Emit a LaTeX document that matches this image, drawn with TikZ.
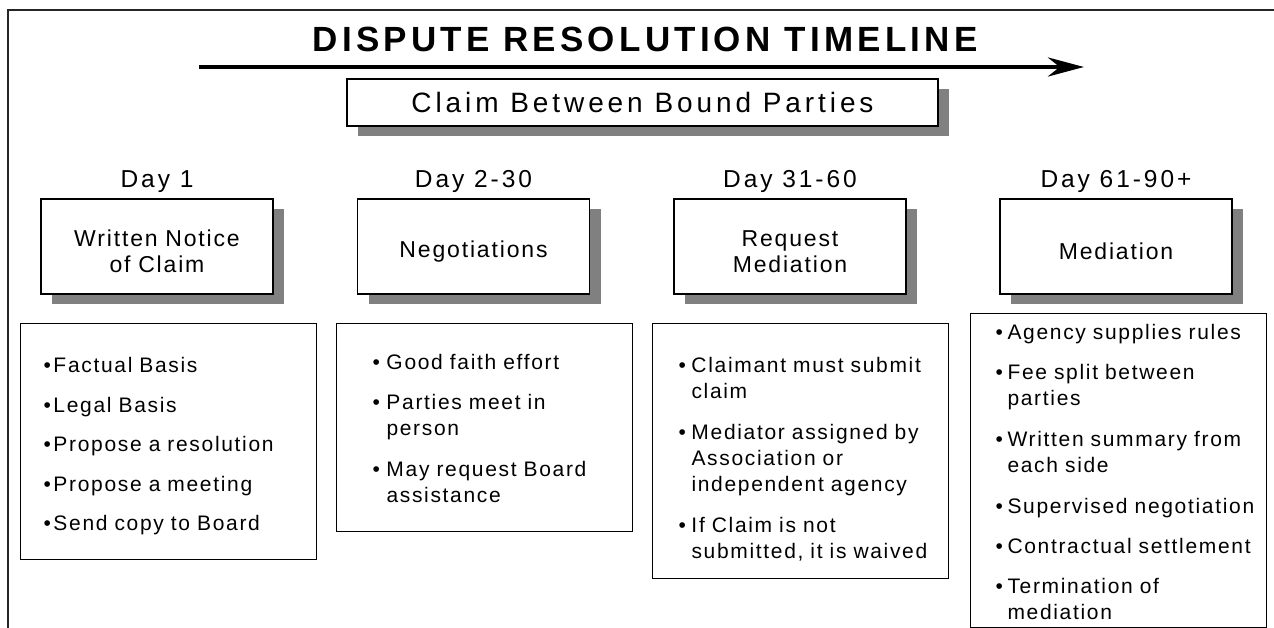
\documentclass[tikz,border=0pt]{standalone}
\usepackage{fontspec}
\setmainfont{Liberation Sans}
\usetikzlibrary{arrows.meta,shadows}
\definecolor{shade}{HTML}{808080}
% bullet with a hanging indent
\newcommand{\pnt}[2][13pt]{\makebox[#1][l]{\textbullet}\begin{tabular}[t]{@{}l@{}}#2\end{tabular}}

\begin{document}
\begin{tikzpicture}[x=1pt,y=-1pt,
    stage/.style={draw, fill=white, line width=1.2pt, minimum width=232pt, minimum height=95pt,
      text width=220pt, inner xsep=6pt, align=center,
      font=\fontsize{23}{26}\selectfont\addfontfeatures{LetterSpace=8},
      drop shadow={shadow xshift=11pt, shadow yshift=-10pt, fill=shade, opacity=1}},
    day/.style={anchor=base, font=\fontsize{24.5}{28}\selectfont\addfontfeatures{LetterSpace=12}},
    info/.style={draw, line width=1pt, anchor=north west, align=left, inner ysep=0pt,
      font=\fontsize{21}{26}\selectfont\addfontfeatures{LetterSpace=8}}]
    \path[use as bounding box, fill=white] (0,0) rectangle (1274,628);

    % frame
    \draw[line width=2pt, black!85] (1280,10) -- (8,10) -- (8,640);

    \node[anchor=base, font=\fontsize{35}{40}\selectfont\bfseries\addfontfeatures{LetterSpace=12}] (title) at (645,52) {DISPUTE RESOLUTION TIMELINE};
    \coordinate (tstart) at (199,67);
    \coordinate (tend) at (1084,67);
    \draw[line width=4.7pt, -{Stealth[length=36pt, width=19pt]}] (tstart) -- (tend);

    \node[draw, fill=white, line width=1.2pt, minimum width=591pt, minimum height=47pt,
      font=\fontsize{28}{32}\selectfont\addfontfeatures{LetterSpace=14},
      drop shadow={shadow xshift=11pt, shadow yshift=-10pt, fill=shade, opacity=1}] (claim) at (642.5,102.5) {Claim Between Bound Parties};

    \node[day] (d1) at (157,188) {Day 1};
    \node[day] (d2) at (473.5,188) {Day 2-30};
    \node[day] (d3) at (790,188) {Day 31-60};
    \node[day] (d4) at (1116,188) {Day 61-90+};

    \node[stage] (notice) at (157,246.5) {\rule{0pt}{26pt}Written Notice\\of Claim};
    \node[stage] (nego) at (473.5,246.5) {\rule{0pt}{26pt}Negotiations};
    \node[stage] (req) at (790,246.5) {\rule{0pt}{26pt}Request\\Mediation};
    \node[stage] (med) at (1116,246.5) {\rule{0pt}{26pt}Mediation};

    \node[info, minimum height=236pt, text width=250pt, inner xsep=23pt] (facts) at (20,323) {%
      \rule{0pt}{27.8pt}\pnt[10pt]{Factual Basis}\\[13.5pt]
      \pnt[10pt]{Legal Basis}\\[13.5pt]
      \pnt[10pt]{Propose a resolution}\\[13.5pt]
      \pnt[10pt]{Propose a meeting}\\[13.5pt]
      \pnt[10pt]{Send copy to Board}};

    \node[info, minimum height=208pt, text width=224pt, inner xsep=36pt] (talks) at (336,323) {%
      \rule{0pt}{23.8pt}\pnt[14pt]{Good faith effort}\\[14pt]
      \pnt[14pt]{Parties meet in\\person}\\[14pt]
      \pnt[14pt]{May request Board\\assistance}};

    \node[info, minimum height=255pt, text width=244pt, inner xsep=26pt] (asks) at (652,323) {%
      \rule{0pt}{36.8pt}\pnt{Claimant must submit\\claim}\\[14pt]
      \pnt{Mediator assigned by\\Association or\\independent agency}\\[14pt]
      \pnt{If Claim is not\\submitted, it is waived}};

    \node[info, minimum height=312pt, text width=246pt, inner xsep=25pt] (rules) at (970,313) {%
      \rule{0pt}{26pt}\pnt[12pt]{Agency supplies rules}\\[14pt]
      \pnt[12pt]{Fee split between\\parties}\\[14pt]
      \pnt[12pt]{Written summary from\\each side}\\[14pt]
      \pnt[12pt]{Supervised negotiation}\\[14pt]
      \pnt[12pt]{Contractual settlement}\\[14pt]
      \pnt[12pt]{Termination of\\mediation}};
\end{tikzpicture}
\end{document}
